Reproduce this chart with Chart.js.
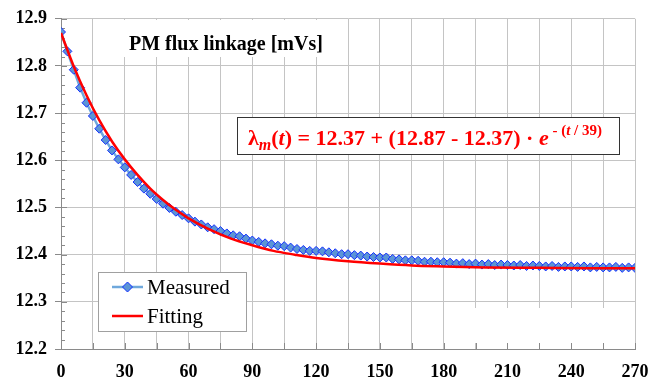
<!DOCTYPE html>
<html>
<head>
<meta charset="utf-8">
<script src="https://cdn.jsdelivr.net/npm/chart.js@4"></script>
<style>
  html, body { margin: 0; padding: 0; background: #fff; }
  #fluxChart { display: block; }
</style>
</head>
<body>
<canvas id="fluxChart" width="672" height="380"></canvas>
<script>
// Measured samples: time [minutes] and flux linkage [mVs]
const measuredTimes = [
  0, 3, 6, 9, 12, 15, 18, 21, 24, 27, 30, 33, 36, 39, 42, 45, 48, 51, 54, 57,
  60, 63, 66, 69, 72, 75, 78, 81, 84, 87, 90, 93, 96, 99, 102, 105, 108, 111, 114, 117,
  120, 123, 126, 129, 132, 135, 138, 141, 144, 147, 150, 153, 156, 159, 162, 165, 168, 171, 174, 177,
  180, 183, 186, 189, 192, 195, 198, 201, 204, 207, 210, 213, 216, 219, 222, 225, 228, 231, 234, 237,
  240, 243, 246, 249, 252, 255, 258, 261, 264, 267, 270
];
const measuredValues = [
  12.872, 12.831, 12.792, 12.754, 12.722, 12.694, 12.667, 12.643, 12.621, 12.602,
  12.585, 12.569, 12.554, 12.540, 12.529, 12.518, 12.508, 12.499, 12.491, 12.484,
  12.477, 12.470, 12.464, 12.458, 12.454, 12.450, 12.445, 12.441, 12.439, 12.434,
  12.430, 12.427, 12.424, 12.422, 12.419, 12.418, 12.415, 12.412, 12.410, 12.408,
  12.408, 12.407, 12.405, 12.403, 12.401, 12.401, 12.399, 12.398, 12.396, 12.395,
  12.394, 12.394, 12.391, 12.390, 12.388, 12.388, 12.387, 12.385, 12.385, 12.384,
  12.384, 12.383, 12.381, 12.382, 12.380, 12.381, 12.379, 12.380, 12.378, 12.379,
  12.378, 12.377, 12.378, 12.376, 12.377, 12.376, 12.375, 12.376, 12.374, 12.375,
  12.375, 12.374, 12.375, 12.373, 12.374, 12.373, 12.373, 12.374, 12.372, 12.373,
  12.372
];

// Fitted curve
const fitTimes = [0, 6, 12, 18, 24, 30, 36, 42, 48, 54, 60, 70, 80, 90, 100, 110, 120, 135, 150, 165, 180, 200, 225, 250, 270];
const fitValues = [
  12.870, 12.799, 12.738, 12.685, 12.640, 12.602, 12.569, 12.540, 12.516, 12.495,
  12.477, 12.453, 12.434, 12.420, 12.408, 12.400, 12.393, 12.386, 12.381, 12.377,
  12.375, 12.373, 12.372, 12.371, 12.371
];

const seriesNames = ["Measured", "Fitting"];
const yTitle = "PM flux linkage [mVs]";
const xTitle = "Time [minutes]";

const SERIF = "'Liberation Serif', 'Times New Roman', serif";
const GRID = "#c4c4c4";
const AXIS = "#8a8a8a";

function toPoints(xs, ys) {
  return xs.map((x, i) => ({ x: x, y: ys[i] }));
}

// white label box helper
function box(ctx, x, y, w, h, stroke) {
  ctx.fillStyle = "#fff";
  ctx.fillRect(x, y, w, h);
  if (stroke) {
    ctx.strokeStyle = stroke;
    ctx.lineWidth = 1;
    ctx.strokeRect(x + 0.5, y + 0.5, w, h);
  }
}

// minor tick marks on the inner side of the axes
const minorTicks = {
  id: "minorTicks",
  beforeDatasetsDraw(chart) {
    const ctx = chart.ctx;
    const ys = chart.scales.y, xs = chart.scales.x;
    const left = chart.chartArea.left, bottom = chart.chartArea.bottom;
    ctx.save();
    ctx.strokeStyle = AXIS;
    ctx.lineWidth = 1;
    ctx.beginPath();
    for (let v = 12.2; v <= 12.9001; v += 0.02) {
      const py = Math.round(ys.getPixelForValue(v)) + 0.5;
      const major = Math.abs(v * 10 - Math.round(v * 10)) < 0.001;
      ctx.moveTo(left, py);
      ctx.lineTo(left + (major ? 6 : 4), py);
    }
    for (let t = 0; t <= 270; t += 15) {
      const px = Math.round(xs.getPixelForValue(t)) + 0.5;
      ctx.moveTo(px, bottom);
      ctx.lineTo(px, bottom - 6);
    }
    ctx.stroke();
    ctx.restore();
  }
};

// text boxes, equation and legend
const annotations = {
  id: "annotations",
  afterDatasetsDraw(chart) {
    const ctx = chart.ctx;
    ctx.save();

    // y title
    box(ctx, 110, 20, 225, 37);
    ctx.fillStyle = "#000";
    ctx.textBaseline = "alphabetic";
    ctx.font = "bold 20px " + SERIF;
    ctx.fillText(yTitle, 129, 50);

    // x title
    box(ctx, 466, 308, 160, 35);
    ctx.fillText(xTitle, 475, 334);

    // equation
    box(ctx, 237, 117, 382, 37, "#333");
    ctx.fillStyle = "#ff0000";
    let x = 248;
    const base = 145;
    const parts = [
      ["λ", "bold 22px", 0],
      ["m", "italic bold 16px", 5],
      ["(", "bold 22px", 0],
      ["t", "italic bold 22px", 0],
      [") = 12.37 + (12.87 - 12.37) · ", "bold 22px", 0],
      ["e", "italic bold 22px", 0],
      [" - (", "bold 15px", -10],
      ["t", "italic bold 15px", -10],
      [" / 39)", "bold 15px", -10]
    ];
    parts.forEach(p => {
      ctx.font = p[1] + " " + SERIF;
      ctx.fillText(p[0], x, base + p[2]);
      x += ctx.measureText(p[0]).width;
    });

    // legend
    const ds = chart.data.datasets;
    box(ctx, 98, 272, 148, 59, "#a0a0a0");
    const rows = [[ds[1], 287], [ds[0], 316]];
    rows.forEach(r => {
      const d = r[0], y = r[1];
      ctx.strokeStyle = d.borderColor;
      ctx.lineWidth = d.borderWidth;
      ctx.beginPath();
      ctx.moveTo(112, y);
      ctx.lineTo(143, y);
      ctx.stroke();
      if (d.pointRadius > 0) {
        ctx.fillStyle = d.pointBackgroundColor;
        ctx.strokeStyle = d.pointBorderColor;
        ctx.lineWidth = 1;
        ctx.beginPath();
        ctx.moveTo(127.5, y - 5);
        ctx.lineTo(132.5, y);
        ctx.lineTo(127.5, y + 5);
        ctx.lineTo(122.5, y);
        ctx.closePath();
        ctx.fill();
        ctx.stroke();
      }
      ctx.fillStyle = "#000";
      ctx.font = "21px " + SERIF;
      ctx.textBaseline = "middle";
      ctx.fillText(d.label, 147, y + 1);
    });

    ctx.restore();
  }
};

const whiteBg = {
  id: "whiteBg",
  beforeDraw(chart) {
    const ctx = chart.ctx;
    ctx.save();
    ctx.fillStyle = "#fff";
    ctx.fillRect(0, 0, chart.width, chart.height);
    ctx.restore();
  }
};

const tickFont = { family: SERIF, size: 18, weight: "bold" };

new Chart(document.getElementById("fluxChart").getContext("2d"), {
  type: "line",
  data: {
    datasets: [
      {
        label: seriesNames[1],
        data: toPoints(fitTimes, fitValues),
        borderColor: "#ff0000",
        borderWidth: 2.5,
        pointRadius: 0,
        cubicInterpolationMode: "monotone",
        order: 0
      },
      {
        label: seriesNames[0],
        data: toPoints(measuredTimes, measuredValues),
        borderColor: "#6fa8dc",
        borderWidth: 2.5,
        pointStyle: "rectRot",
        pointRadius: 4.5,
        pointBorderWidth: 1,
        pointBackgroundColor: "#5b95d6",
        pointBorderColor: "#1530ff",
        order: 1
      }
    ]
  },
  options: {
    responsive: false,
    animation: false,
    layout: { padding: { top: 17, right: 37, left: 0, bottom: 0 } },
    plugins: { legend: { display: false }, tooltip: { enabled: false } },
    scales: {
      x: {
        type: "linear",
        min: 0,
        max: 270,
        afterFit(scale) { scale.height = 31; },
        grid: { color: GRID, tickLength: 4, tickColor: "rgba(0,0,0,0)" },
        border: { color: AXIS },
        ticks: {
          stepSize: 15,
          autoSkip: false,
          maxRotation: 0,
          padding: 9,
          color: "#000",
          font: tickFont,
          callback: v => (v % 30 === 0 ? String(v) : "")
        }
      },
      y: {
        min: 12.2,
        max: 12.9,
        afterFit(scale) { scale.width = 61; },
        grid: { color: GRID, tickLength: 6, tickColor: AXIS },
        border: { color: AXIS },
        ticks: {
          stepSize: 0.1,
          padding: 8,
          color: "#000",
          font: tickFont,
          callback: v => v.toFixed(1)
        }
      }
    }
  },
  plugins: [whiteBg, minorTicks, annotations]
});
</script>
</body>
</html>
